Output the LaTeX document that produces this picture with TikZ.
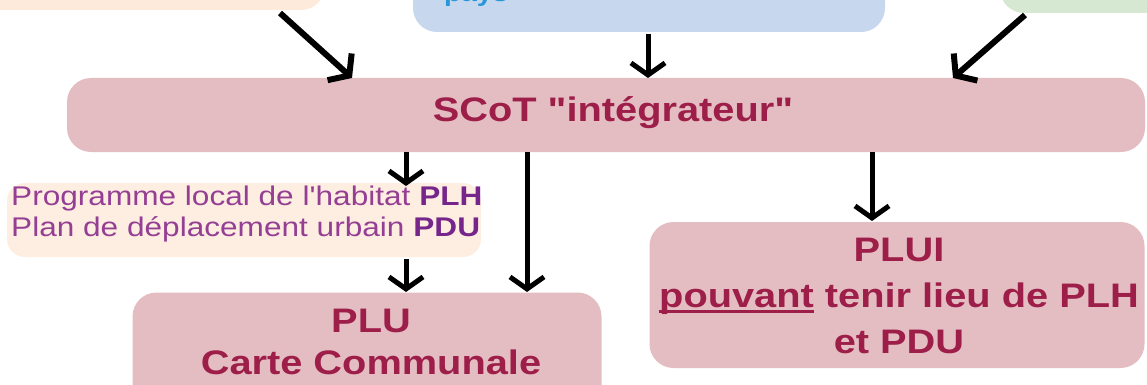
\documentclass[tikz,border=0pt]{standalone}
\usepackage{fontspec}
\setmainfont{Liberation Sans}[FakeStretch=1.17, Ligatures=TeXOff]
\usetikzlibrary{arrows.meta}
\definecolor{pinkbox}{RGB}{228,189,194}
\definecolor{crim}{RGB}{158,30,74}
\definecolor{peach}{RGB}{253,234,218}
\definecolor{lpeach}{RGB}{254,238,225}
\definecolor{bluebox}{RGB}{198,215,238}
\definecolor{greenbox}{RGB}{214,232,210}
\definecolor{purp}{RGB}{148,62,148}
\definecolor{dpurp}{RGB}{118,38,138}
\definecolor{bluetext}{RGB}{40,150,215}
\newcommand{\ulw}[1]{\setbox0\hbox{#1}\rlap{\rule[-5pt]{\wd0}{2.5pt}}\box0\relax}
\tikzset{
  box/.style={rounded corners=24pt, inner sep=0pt},
  pinkb/.style={box, fill=pinkbox},
  bigtxt/.style={text=crim, font=\fontsize{34}{46}\selectfont\bfseries, inner sep=0pt, align=center},
  arr/.style={line width=6pt, -{Straight Barb[length=13pt,width=36pt]}},
  arrs/.style={line width=5pt, -{Straight Barb[length=12pt,width=34pt]}}
}
\begin{document}
\begin{tikzpicture}[x=1pt,y=-1pt]
\useasboundingbox (0,0) rectangle (1147,385);
\clip (0,0) rectangle (1147,385);
% top partial boxes
\node[box, fill=peach, minimum width=420pt, minimum height=80pt] (ptop) at (115,-30) {};
\node[box, fill=bluebox, minimum width=472pt, minimum height=100pt] (btop) at (649,-18) {};
\node[anchor=base west, inner sep=0pt, text=bluetext, font=\fontsize{24}{28}\selectfont\bfseries] (pays) at (444,2) {pays};
\node[box, fill=greenbox, minimum width=260pt, minimum height=80pt] (gtop) at (1130,-27) {};
% SCoT
\node[pinkb, minimum width=1078pt, minimum height=74pt] (scot) at (606,115) {};
\node[bigtxt] (scott) at (613,113) {SCoT "intégrateur"};
% PLH / PDU
\node[box, rounded corners=18pt, fill=lpeach, minimum width=474pt, minimum height=74pt] (plh) at (244,220) {};
\node[anchor=west, inner sep=0pt, text=purp, align=left, font=\fontsize{27}{31}\selectfont] (plht) at (11,214)
  {Programme local de l'habitat \textcolor{dpurp}{\bfseries PLH}\\Plan de déplacement urbain \textcolor{dpurp}{\bfseries PDU}};
% PLU
\node[pinkb, minimum width=469pt, minimum height=127pt] (plu) at (367,356) {};
\node[bigtxt, font=\fontsize{34}{42}\selectfont\bfseries] (plut) at (371,342) {PLU\\Carte Communale};
% PLUI
\node[pinkb, minimum width=495pt, minimum height=146pt] (plui) at (897,295) {};
\node[bigtxt] (pluit) at (899,296) {PLUI\\\ulw{pouvant} tenir lieu de PLH\\et PDU};
% arrow endpoints
\coordinate (a1s) at (280,13);
\coordinate (a1e) at (352,78);
\coordinate (a2s) at (648,34);
\coordinate (a2e) at (648,78);
\coordinate (a3s) at (1025,15);
\coordinate (a3e) at (953,78);
\coordinate (b1s) at (406,152);
\coordinate (b1e) at (406,186);
\coordinate (b2s) at (527,152);
\coordinate (b2e) at (527,292);
\coordinate (b3s) at (872,152);
\coordinate (b3e) at (872,221);
\coordinate (b4s) at (406,259);
\coordinate (b4e) at (406,292);
\draw[arr] (a1s) -- (a1e);
\draw[arrs] (a2s) -- (a2e);
\draw[arr] (a3s) -- (a3e);
\draw[arrs] (b1s) -- (b1e);
\draw[arrs] (b2s) -- (b2e);
\draw[arrs] (b3s) -- (b3e);
\draw[arrs] (b4s) -- (b4e);
\end{tikzpicture}
\end{document}
